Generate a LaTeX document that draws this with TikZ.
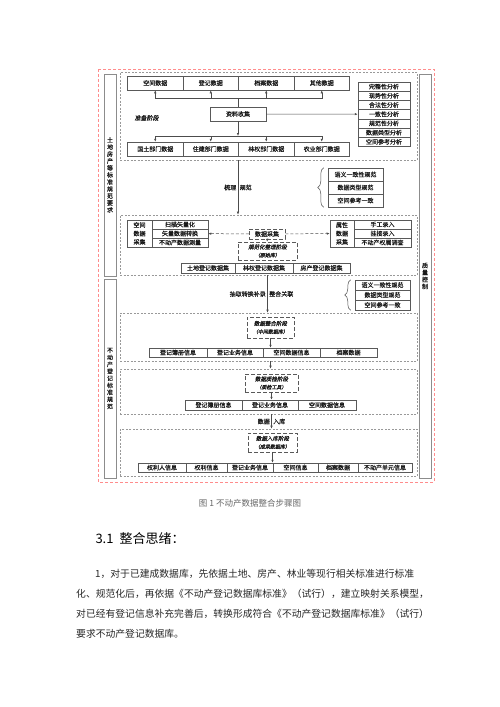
\documentclass[tikz,border=0pt]{standalone}
\usepackage{fontspec}
\setmainfont{Noto Sans CJK SC}
\newfontfamily\slantcjk[FakeSlant=0.2,FakeBold=0.8]{Noto Sans CJK SC}
\newfontfamily\heavycjk[FakeBold=0.5]{Noto Sans CJK SC}
\usetikzlibrary{arrows.meta,decorations.pathreplacing}

\begin{document}
\begin{tikzpicture}[x=1pt,y=-1pt,
  line/.style={draw=black!70,line width=0.5pt},
  arr/.style={line,-{Latex[length=3pt,width=2.4pt]}},
  darr/.style={arr,dash pattern=on 3pt off 2pt},
  cell/.style={draw=black!65,line width=0.5pt,inner sep=0pt,minimum height=9pt,
    text=black!90,font=\fontsize{6}{7}\heavycjk},
  stage/.style={draw=black!40,dash pattern=on 2pt off 1.5pt,line width=0.6pt,inner sep=0pt},
  phase/.style={draw=black!65,dash pattern=on 4pt off 2pt,line width=0.5pt,inner sep=0pt,
    align=center,text=black!90,font=\fontsize{5.5}{8}\slantcjk},
  side/.style={draw=black!45,line width=0.8pt,inner sep=0pt,minimum width=12pt,align=center,
    text=black!90,font=\fontsize{6}{7}\heavycjk},
  lab/.style={inner sep=1.5pt,text=black!90,font=\fontsize{6}{7}\heavycjk},
  grp/.style={line,decorate,decoration={brace,amplitude=6pt}}
]
\useasboundingbox (0,0) rectangle (500,707);

% outer frame
\draw[draw=red!45,dash pattern=on 3pt off 2pt,line width=0.8pt] (98,69) rectangle (434,482);

% side columns
\node[side,minimum height=202pt] (lc1) at (110,175) {土\\地\\房\\产\\等\\标\\准\\规\\范\\要\\求};
\node[side,minimum height=199pt] (lc2) at (110,378.5) {不\\动\\产\\登\\记\\标\\准\\规\\范};
\node[side,minimum height=404pt] (rc) at (425,276) {质\\量\\控\\制};

% stage frames
\node[stage,minimum width=297pt,minimum height=88pt] (s1) at (268.5,116) {};
\node[stage,minimum width=297pt,minimum height=60pt] (s2) at (268.5,245) {};
\node[stage,minimum width=297pt,minimum height=48pt] (s3) at (268.5,337) {};
\node[stage,minimum width=297pt,minimum height=45pt] (s4) at (268.5,391.5) {};
\node[stage,minimum width=297pt,minimum height=47pt] (s5) at (268.5,452.5) {};

% stage 1
\node[cell,minimum width=55.5pt,minimum height=14pt] (t1) at (155.25,83) {空间数据};
\node[cell,minimum width=55.5pt,minimum height=14pt] (t2) at (210.75,83) {登记数据};
\node[cell,minimum width=55.5pt,minimum height=14pt] (t3) at (266.25,83) {档案数据};
\node[cell,minimum width=55.5pt,minimum height=14pt] (t4) at (321.75,83) {其他数据};
\node[cell,minimum width=56pt,minimum height=14pt] (coll) at (238,114) {资料收集};
\node[anchor=west,text=black!90,font=\fontsize{6}{7}\slantcjk] (prep) at (131,118) {准备阶段};
\node[cell,minimum width=55.5pt,minimum height=14pt] (d1) at (155.25,149) {国土部门数据};
\node[cell,minimum width=55.5pt,minimum height=14pt] (d2) at (210.75,149) {住建部门数据};
\node[cell,minimum width=55.5pt,minimum height=14pt] (d3) at (266.25,149) {林权部门数据};
\node[cell,minimum width=55.5pt,minimum height=14pt] (d4) at (321.75,149) {农业部门数据};
\node[cell,minimum width=52pt,minimum height=9.2pt] (an1) at (384,86.6) {完整性分析};
\node[cell,minimum width=52pt,minimum height=9.2pt] (an2) at (384,95.8) {现势性分析};
\node[cell,minimum width=52pt,minimum height=9.2pt] (an3) at (384,105) {合法性分析};
\node[cell,minimum width=52pt,minimum height=9.2pt] (an4) at (384,114.2) {一致性分析};
\node[cell,minimum width=52pt,minimum height=9.2pt] (an5) at (384,123.4) {规范性分析};
\node[cell,minimum width=52pt,minimum height=9.2pt] (an6) at (384,132.6) {数据类型分析};
\node[cell,minimum width=52pt,minimum height=9.2pt] (an7) at (384,141.8) {空间参考分析};
\coordinate (bus1) at (238,98);
\coordinate (bus2) at (238,136);
\draw[line] (coll) -- (bus1);
\draw[arr] (bus1) -| (t1);
\draw[arr] (bus1) -| (t2);
\draw[arr] (bus1) -| (t3);
\draw[arr] (bus1) -| (t4);
\draw[arr] (coll) -- (bus2);
\draw[arr] (bus2) -| (d1);
\draw[arr] (bus2) -| (d2);
\draw[arr] (bus2) -| (d3);
\draw[arr] (bus2) -| (d4);
\draw[arr] (coll) -- (an4);

% rules between stage 1 and 2
\node[cell,minimum width=55pt,minimum height=13pt] (g1a) at (355.5,174.5) {语义一致性规范};
\node[cell,minimum width=55pt,minimum height=13pt] (g1b) at (355.5,187.5) {数据类型规范};
\node[cell,minimum width=55pt,minimum height=13pt] (g1c) at (355.5,200.5) {空间参考一致};
\draw[grp] ([xshift=-4pt]g1c.south west) -- ([xshift=-4pt]g1a.north west);
\draw[arr] (s1.south -| coll) -- node[lab,left]{梳理} node[lab,right]{规范} (s2.north -| coll);

% stage 2
\node[cell,minimum width=25pt,minimum height=27pt,align=center,font=\fontsize{6}{8.5}\heavycjk] (ls) at (139.5,233.5) {空间\\数据\\采集};
\node[cell,minimum width=56pt] (ls1) at (180,224.5) {扫描矢量化};
\node[cell,minimum width=56pt] (ls2) at (180,233.5) {矢量数据转换};
\node[cell,minimum width=56pt] (ls3) at (180,242.5) {不动产数据测量};
\node[cell,minimum width=24pt,minimum height=27pt,align=center,font=\fontsize{6}{8.5}\heavycjk] (rs) at (342,233.5) {属性\\数据\\采集};
\node[cell,minimum width=57pt] (rs1) at (382.5,224.5) {手工录入};
\node[cell,minimum width=57pt] (rs2) at (382.5,233.5) {挂接录入};
\node[cell,minimum width=57pt] (rs3) at (382.5,242.5) {不动产权属调查};
\node[cell,dash pattern=on 4pt off 2pt,minimum width=36pt,minimum height=10pt] (dc) at (267,234) {数据采集};
\node[phase,minimum width=59pt,minimum height=18pt] (nb) at (267.5,251) {规范化整理阶段\\{\fontsize{5}{6}\selectfont （原始库）}};
\draw[darr] (dc) -- (ls2);
\draw[darr] (dc) -- (rs);
\draw[arr] (dc) -- (nb);
\node[cell,minimum width=54pt,minimum height=10pt] (r1) at (208,268) {土地登记数据集};
\node[cell,minimum width=58pt,minimum height=10pt] (r2) at (264,268) {林权登记数据集};
\node[cell,minimum width=57pt,minimum height=10pt] (r3) at (321.5,268) {房产登记数据集};

% rules between stage 2 and 3
\node[cell,minimum width=55pt,minimum height=10pt] (g2a) at (382.5,285) {语义一致性规范};
\node[cell,minimum width=55pt,minimum height=10pt] (g2b) at (382.5,295) {数据类型规范};
\node[cell,minimum width=55pt,minimum height=10pt] (g2c) at (382.5,305) {空间参考一致};
\draw[grp] ([xshift=-4pt]g2c.south west) -- ([xshift=-4pt]g2a.north west);
\draw[arr] (s2.south -| nb) -- node[lab,left]{抽取转换补录} node[lab,right]{整合关联} (s3.north -| nb);

% stage 3
\node[phase,minimum width=47pt,minimum height=21pt] (ib) at (270.5,327.5) {数据整合阶段\\{\fontsize{5}{6}\selectfont （中间数据库）}};
\node[cell,minimum width=58pt] (m1) at (178,352.5) {登记簿册信息};
\node[cell,minimum width=56pt] (m2) at (235,352.5) {登记业务信息};
\node[cell,minimum width=57pt] (m3) at (291.5,352.5) {空间数据信息};
\node[cell,minimum width=57pt] (m4) at (348.5,352.5) {档案数据};
\draw[arr] (ib) -- (ib |- m3.north);
\draw[arr] (s3.south -| ib) -- (s4.north -| ib);

% stage 4
\node[phase,minimum width=53pt,minimum height=18pt] (qb) at (271.5,383) {数据质检阶段\\{\fontsize{5}{6}\selectfont （质检工具）}};
\node[cell,minimum width=57pt,minimum height=10pt] (q1) at (213.5,405) {登记簿册信息};
\node[cell,minimum width=56pt,minimum height=10pt] (q2) at (270,405) {登记业务信息};
\node[cell,minimum width=58pt,minimum height=10pt] (q3) at (327,405) {空间数据信息};
\draw[arr] (qb) -- (qb |- q2.north);
\draw[arr] (s4.south -| qb) -- node[lab,left]{数据} node[lab,right]{入库} (s5.north -| qb);

% stage 5
\node[phase,minimum width=49pt,minimum height=19pt] (kb) at (272.5,442.5) {数据入库阶段\\{\fontsize{5}{6}\selectfont （成果数据库）}};
\node[cell,minimum width=48pt] (k1) at (162,467.5) {权利人信息};
\node[cell,minimum width=41pt] (k2) at (206.5,467.5) {权利信息};
\node[cell,minimum width=46pt] (k3) at (250,467.5) {登记业务信息};
\node[cell,minimum width=45pt] (k4) at (295.5,467.5) {空间信息};
\node[cell,minimum width=40pt] (k5) at (338,467.5) {档案数据};
\node[cell,minimum width=54pt] (k6) at (385,467.5) {不动产单元信息};
\draw[arr] (kb) -- (kb |- k4.north);

% caption and text
\node[text=black!60,font=\fontsize{8.5}{10}\selectfont] (cap) at (250,503) {图 1 不动产数据整合步骤图};
\node[anchor=west,font=\fontsize{13}{15}\selectfont] (head) at (92,539) {3.1\hspace{6pt}整合思绪：};
\node[anchor=west,inner sep=0pt,text=black!85,font=\fontsize{9.8}{12}\selectfont] (p1) at (95,574) {1，对于已建成数据库，先依据土地、房产、林业等现行相关标准进行标准};
\node[anchor=west,inner sep=0pt,text=black!85,font=\fontsize{9.8}{12}\selectfont] (p2) at (76,594) {化、规范化后，再依据《不动产登记数据库标准》（试行），建立映射关系模型，};
\node[anchor=west,inner sep=0pt,text=black!85,font=\fontsize{9.8}{12}\selectfont] (p3) at (76,614) {对已经有登记信息补充完善后，转换形成符合《不动产登记数据库标准》（试行）};
\node[anchor=west,inner sep=0pt,text=black!85,font=\fontsize{9.8}{12}\selectfont] (p4) at (76,634) {要求不动产登记数据库。};
\end{tikzpicture}
\end{document}
